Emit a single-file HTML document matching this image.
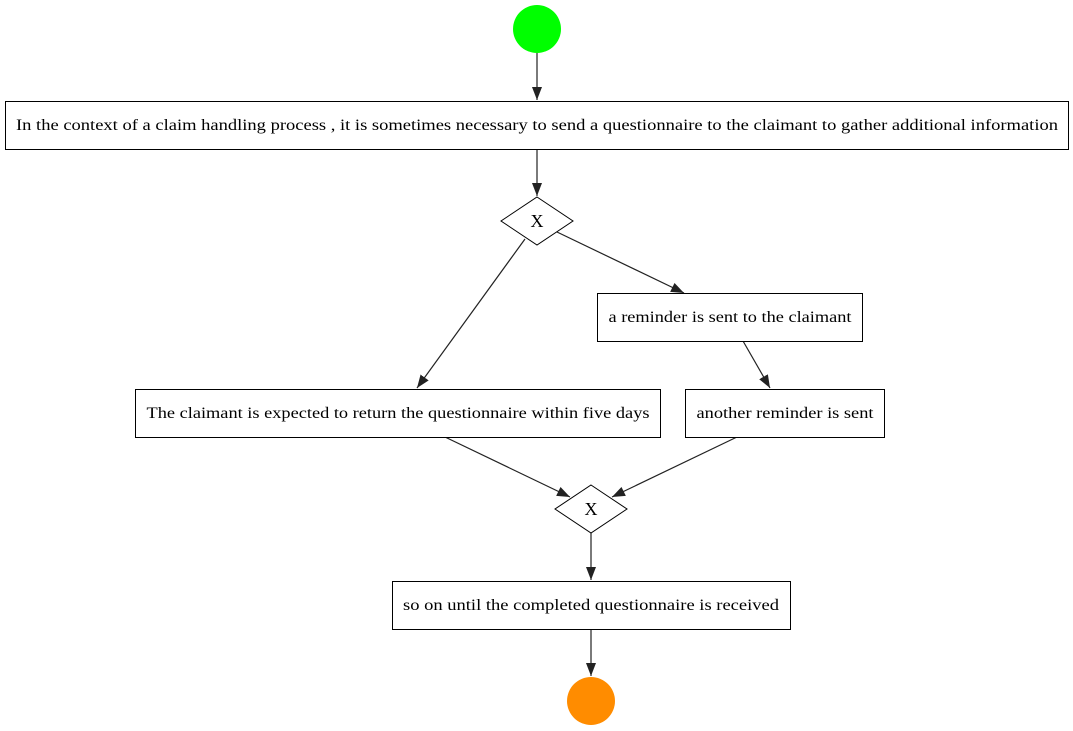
<!DOCTYPE html>
<html><head><style>body{margin:0;background:#fff}svg{display:block}</style></head>
<body>
<svg width="1073" height="731" viewBox="0 0 1073 731" xmlns="http://www.w3.org/2000/svg" font-family="'Liberation Serif', serif" font-size="16">
<defs><marker id="a" markerWidth="14" markerHeight="12" refX="13" refY="6" orient="auto" markerUnits="userSpaceOnUse"><path d="M0,1 L13,6 L0,11 z" fill="#222"/></marker></defs>
<g stroke="#222" stroke-width="1.2" fill="none" marker-end="url(#a)">
<line x1="537" y1="53" x2="537" y2="100"/>
<line x1="537" y1="149" x2="537" y2="196"/>
<line x1="525" y1="239" x2="417" y2="388"/>
<line x1="557" y1="232" x2="684" y2="293"/>
<line x1="743" y1="341" x2="770" y2="388"/>
<line x1="445" y1="437" x2="570" y2="497"/>
<line x1="737" y1="437" x2="612" y2="497"/>
<line x1="591" y1="533" x2="591" y2="580"/>
<line x1="591" y1="629" x2="591" y2="676"/>
</g>
<circle cx="537" cy="29" r="24" fill="#00ff00"/>
<circle cx="591" cy="701" r="24" fill="#ff8c00"/>
<g fill="#fff" stroke="#000" stroke-width="1">
<rect x="5.5" y="101.5" width="1063" height="48"/>
<rect x="597.5" y="293.5" width="265" height="48"/>
<rect x="135.5" y="389.5" width="525" height="48"/>
<rect x="685.5" y="389.5" width="199" height="48"/>
<rect x="392.5" y="581.5" width="398" height="48"/>
<polygon points="537,197 573,221 537,245 501,221"/>
<polygon points="591,485 627,509 591,533 555,509"/>
</g>
<g text-anchor="middle" fill="#000">
<text x="537" y="130" textLength="1042" lengthAdjust="spacingAndGlyphs">In the context of a claim handling process , it is sometimes necessary to send a questionnaire to the claimant to gather additional information</text>
<text x="730" y="322" textLength="243" lengthAdjust="spacingAndGlyphs">a reminder is sent to the claimant</text>
<text x="398" y="418" textLength="503" lengthAdjust="spacingAndGlyphs">The claimant is expected to return the questionnaire within five days</text>
<text x="785" y="418" textLength="177" lengthAdjust="spacingAndGlyphs">another reminder is sent</text>
<text x="591" y="610" textLength="376" lengthAdjust="spacingAndGlyphs">so on until the completed questionnaire is received</text>
<text x="537" y="227" font-size="18">X</text>
<text x="591" y="515" font-size="18">X</text>
</g>
</svg>
</body></html>
